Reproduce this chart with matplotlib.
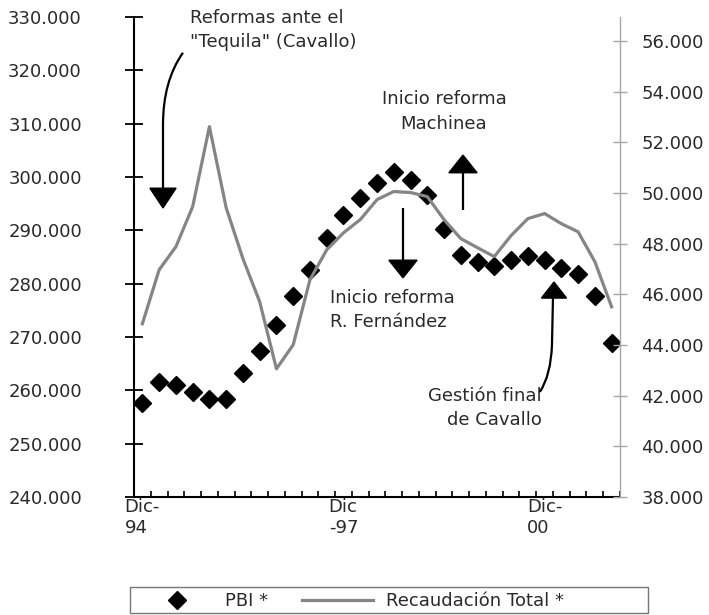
import numpy as np
import matplotlib
matplotlib.use("Agg")
import matplotlib.pyplot as plt
from matplotlib.lines import Line2D
from matplotlib.patches import PathPatch, Polygon, Rectangle
from matplotlib.path import Path
from matplotlib.ticker import FuncFormatter, FixedLocator

plt.rcParams['font.family'] = ['DejaVu Sans']

# quarterly series, Dic-94 .. Dic-01
pbi = [257600, 261600, 261000, 259700, 258400, 258400, 263300, 267400,
       272300, 277700, 282600, 288600, 292900, 296100, 298900, 300900,
       299400, 296600, 290300, 285400, 284100, 283300, 284400, 285200,
       284400, 282900, 281800, 277700, 268900]
recaudacion = [44840, 46970, 47880, 49460, 52620, 49420, 47410, 45710,
               43060, 44010, 46580, 47760, 48430, 48950, 49740, 50060,
               50020, 49860, 48950, 48200, 47840, 47490, 48320, 48990,
               49190, 48790, 48470, 47290, 45510]
xlabels = {0: "Dic-\n94", 12: "Dic\n-97", 24: "Dic-\n00"}

txt = '#2a2a2a'
fmt = FuncFormatter(lambda v, p: f"{v:,.0f}".replace(",", "."))

fig = plt.figure(figsize=(7.09, 6.15), dpi=100)
ax = fig.add_axes([134/709, 1-497/615, 486/709, 480/615])
ax2 = ax.twinx()

x = np.arange(len(pbi))
ax.plot(x, pbi, linestyle='none', marker='D', markersize=9.5,
        color='black', zorder=3)
ax2.plot(x, recaudacion, color='#858585', linewidth=2.3, zorder=2)

ax.set_xlim(-0.5, len(pbi) - 0.5)
ax.set_ylim(240000, 330000)
ax2.set_ylim(38000, 56950)

ax.set_yticks(np.arange(240000, 330001, 10000))
ax.yaxis.set_major_formatter(fmt)
ax2.set_yticks(np.arange(38000, 56001, 2000))
ax2.yaxis.set_major_formatter(fmt)

ax.set_xticks(list(xlabels.keys()))
ax.set_xticklabels(list(xlabels.values()), multialignment='left')
ax.xaxis.set_minor_locator(FixedLocator(np.arange(-0.5, len(pbi), 1)))

for a in (ax, ax2):
    a.spines['top'].set_visible(False)
ax.spines['right'].set_visible(False)
ax2.spines['left'].set_visible(False)
ax2.spines['bottom'].set_visible(False)
ax.spines['left'].set_linewidth(1.5)
ax.spines['bottom'].set_linewidth(1.5)
ax2.spines['right'].set_color('#a8a8a8')
ax2.spines['right'].set_linewidth(1.0)

ax.tick_params(axis='y', direction='inout', length=13, width=1.3,
               pad=31, labelsize=13, labelcolor=txt)
ax2.tick_params(axis='y', direction='inout', length=10, width=1.0,
                color='#a8a8a8', pad=10.5, labelsize=13, labelcolor=txt)
ax.tick_params(axis='x', which='major', length=0, pad=1,
               labelsize=13, labelcolor=txt)
ax.tick_params(axis='x', which='minor', direction='in', length=4,
               width=1.2)


def arrow(points, codes, tip, base_y, half):
    ax.add_patch(PathPatch(Path(points, codes), fill=False,
                           edgecolor='black', linewidth=1.6, zorder=4))
    ax.add_patch(Polygon([(tip[0] - half, base_y), (tip[0] + half, base_y),
                          tip], closed=True, color='black', zorder=4))


M, C, L = Path.MOVETO, Path.CURVE3, Path.LINETO

# Tequila reforms
ax.text(2.84, 327.5e3, "Reformas ante el\n\"Tequila\" (Cavallo)",
        ha='left', va='center', fontsize=13, color=txt, linespacing=1.45)
arrow([(2.42, 323.3e3), (1.23, 318e3), (1.23, 309.8e3), (1.23, 297.9e3)],
      [M, C, C, L], (1.23, 294.2e3), 297.9e3, 0.78)

# Machinea
ax.text(18.0, 312.3e3, "Inicio reforma\nMachinea", ha='center',
        va='center', fontsize=13, color=txt, linespacing=1.45)
arrow([(19.13, 293.8e3), (19.13, 300.8e3)], [M, L],
      (19.13, 304.1e3), 300.8e3, 0.84)

# R. Fernández
ax.text(11.19, 275.1e3, "Inicio reforma\nR. Fernández", ha='left',
        va='center', fontsize=13, color=txt, linespacing=1.45)
arrow([(15.55, 294.2e3), (15.55, 284.4e3)], [M, L],
      (15.55, 281.1e3), 284.4e3, 0.84)

# Cavallo, final term
ax.text(23.84, 256.7e3, "Gestión final\nde Cavallo", ha='right',
        va='center', fontsize=13, color=txt, linespacing=1.45,
        multialignment='right')
arrow([(24.5, 277.3e3), (24.44, 268.5e3), (24.38, 262.9e3), (23.72, 259.7e3)],
      [M, L, C, C], (24.56, 280.3e3), 277.3e3, 0.75)

# legend
handles = [Line2D([], [], linestyle='none', marker='D', markersize=9,
                  color='black'),
           Line2D([], [], color='#858585', linewidth=2.3)]
fig.legend(handles, ["PBI *", "Recaudación Total *"], ncol=2,
           loc='center left', bbox_to_anchor=(142/709, 1-601/615),
           frameon=False, fontsize=13, handlelength=3.9, handletextpad=0.7,
           columnspacing=1.9, borderpad=0, borderaxespad=0, labelcolor=txt)
fig.patches.append(Rectangle((130/709, 1-613/615), 518/709, 26/615,
                             transform=fig.transFigure, fill=False,
                             edgecolor='#777777', linewidth=1.0))

fig.savefig("out.png", dpi=100)
